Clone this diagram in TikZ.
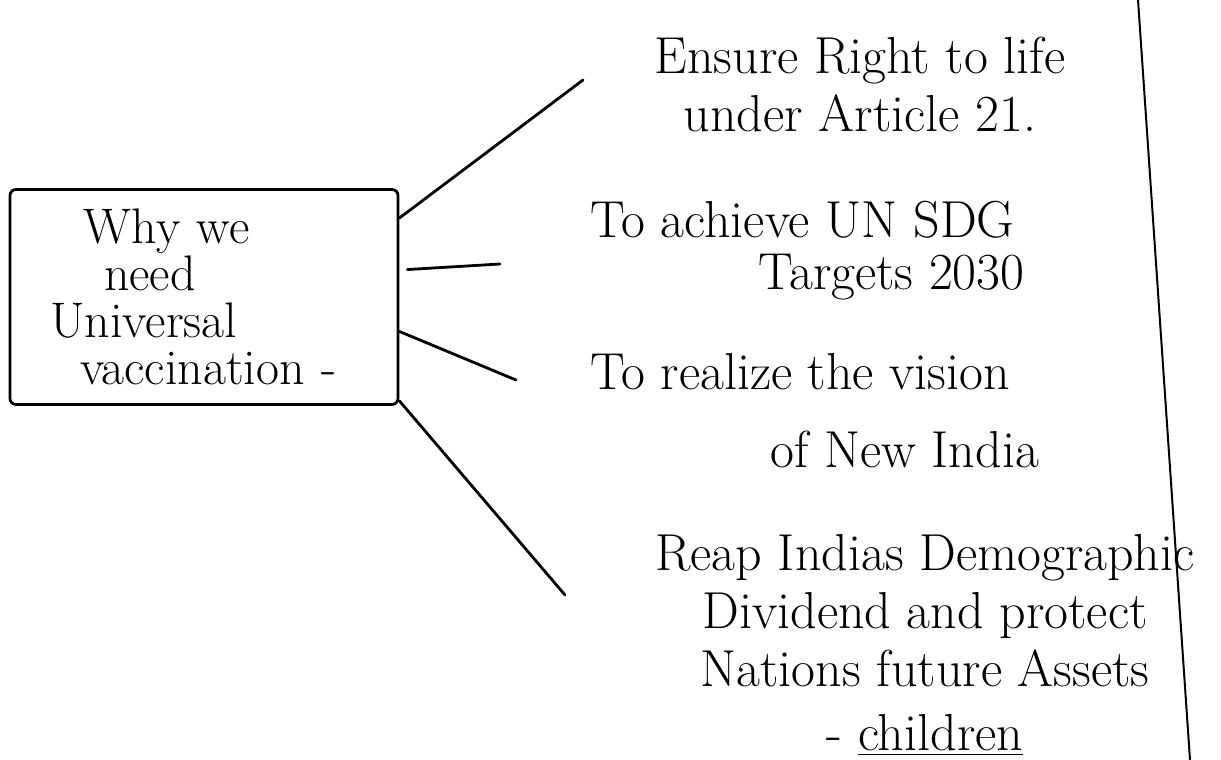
\documentclass[tikz,border=0pt]{standalone}
\begin{document}
\begin{tikzpicture}[x=0.5pt, y=-0.5pt,
    pen/.style={line width=1.4pt, line cap=round},
    note/.style={font=\fontsize{26}{29}\selectfont, inner sep=0pt}]
  \useasboundingbox (0,0) rectangle (1221,760);
  % the question box
  \node[draw, pen, rounded corners=3pt, minimum height=107.5pt,
        inner xsep=20pt, text width=154pt, align=left,
        font=\fontsize{25}{23.5}\selectfont] (why) at (204,297)
        {\hspace{17pt}Why we\\ \hspace{27pt}need\\ Universal\\ \hspace{15pt}vaccination -};
  % the reasons
  \node[note, align=center] (life) at (860,84) {Ensure Right to life\\under Article 21.};
  \node[note, align=left, anchor=west] (sdg) at (590,251) {To achieve UN SDG\\[-3pt]\hspace{84pt}Targets 2030};
  \node[note, align=left, anchor=west] (india) at (590,411) {To realize the vision\\[10pt]\hspace{90pt}of New India};
  \node[note, align=center] (dividend) at (925,645)
        {Reap Indias Demographic\\Dividend and protect\\Nations future Assets\\[3pt]- \underline{children}};
  % branch ends
  \coordinate (tip1) at (583,80);
  \coordinate (tip2) at (500,264);
  \coordinate (tip3) at (516,380);
  \coordinate (tip4) at (565,595);
  \draw[pen] (why.22) -- (tip1);
  \draw[pen] ([xshift=4pt]why.8) -- (tip2);
  \draw[pen] (why.-10) -- (tip3);
  \draw[pen] (why.-28) -- (tip4);
  % page margin
  \draw[line width=1pt] (1138,0) -- (1190,760);
\end{tikzpicture}
\end{document}
